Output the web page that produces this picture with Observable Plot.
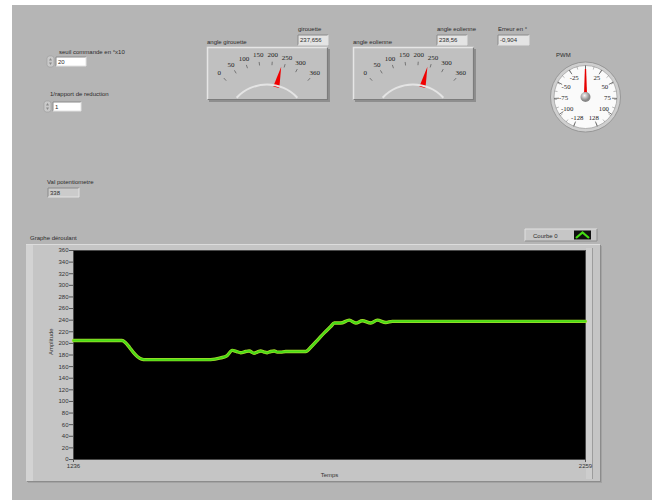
<!DOCTYPE html>
<html>
<head>
<meta charset="utf-8">
<script src="https://cdn.jsdelivr.net/npm/d3@7"></script>
<script src="https://cdn.jsdelivr.net/npm/@observablehq/plot@0.6"></script>
<style>
  html, body { margin: 0; padding: 0; background: #ffffff; }
  #panel { position: relative; width: 656px; height: 500px; overflow: hidden; background: #ffffff; }
  #bg { position: absolute; left: 12px; top: 5px; width: 640px; height: 495px; background: #b5b5b5; }
  #frame { position: absolute; left: 26px; top: 244px; width: 574px; height: 237px; background: #c5c5c5;
           box-shadow: 1px 1px 0 #8c8c8c, 2px 2px 0 #a3a3a3; }
  #frameLeft { position: absolute; left: 26px; top: 244px; width: 7px; height: 237px; background: #d3d3d3; }
  #frameTop { position: absolute; left: 26px; top: 244px; width: 574px; height: 1px; background: #dcdcdc; }
  #frameRight { position: absolute; left: 586px; top: 248px; width: 6px; height: 231px; background: #cdcdcd; border-right: 1px solid #9c9c9c; }
  #chart { position: absolute; left: 26px; top: 244px; }
  #overlay { position: absolute; left: 0; top: 0; pointer-events: none; }
</style>
</head>
<body>
<div id="panel">
  <div id="bg"></div>
  <div id="frame"></div>
  <div id="frameLeft"></div>
  <div id="frameTop"></div>
  <div id="frameRight"></div>
  <div id="chart"></div>
</div>
<script>
// ---------------- data ----------------
const timeValues = [1236,1333,1340,1348,1356,1364,1372,1380,1400,1450,
                    1510,1530,1543,1553,1562,1570,1580,1587,1597,1603,
                    1610,1617,1623,1630,1637,1643,1650,1660,1680,1700,
                    1712,1725,1738,1750,1757,1770,1787,1800,1813,1830,
                    1843,1860,1873,1890,2259];
const amplitudeValues = [205,205,201,193,184,177,173,172,172,172,
                         172,175,179,188,186,184,186,187,183,185,
                         187,185,184,186,187,185,185,186,186,186,
                         195,207,219,229,235,235,240,235,239,235,
                         240,236,238,238,238];
const yTickValues = d3.range(0, 361, 20);
const xTickValues = [1236, 2259];
const gaugeTickValues = [0, 50, 100, 150, 200, 250, 300, 360];
const pwmTickValues = [-128, -100, -75, -50, -25, 0, 25, 50, 75, 100, 128];

const seuilCommande = "20";
const rapportReduction = "1";
const valPotentiometre = "338";
const girouetteValue = 237.656;
const eolienneValue = 238.56;
const erreurValue = "-0,904";
const pwmValue = 0;

const series = timeValues.map((t, i) => ({t, a: amplitudeValues[i]}));

// ---------------- chart ----------------
const chart = Plot.plot({
  width: 574,
  height: 237,
  marginLeft: 47,
  marginRight: 15,
  marginTop: 6,
  marginBottom: 22,
  style: {background: "transparent", fontFamily: "'Liberation Sans', sans-serif", fontSize: "6px", color: "#333"},
  x: {domain: [1236, 2259]},
  y: {domain: [0, 360]},
  marks: [
    Plot.frame({fill: "black", stroke: "#4a4a4a"}),
    Plot.axisY({ticks: yTickValues, tickSize: 4, tickPadding: 1, label: null, fontSize: 6, stroke: "#555"}),
    Plot.axisX({ticks: xTickValues, tickSize: 3, tickPadding: 1, label: null, fontSize: 6, tickFormat: d => String(d), stroke: "#555"}),
    Plot.text(["Amplitude"], {frameAnchor: "left", rotate: -90, dx: -22, fontSize: 6, fill: "#333"}),
    Plot.text(["Temps"], {frameAnchor: "bottom", dy: 17, fontSize: 6, fill: "#333"}),
    Plot.line(series, {x: "t", y: "a", stroke: "#a8dc2c", strokeWidth: 3.4, curve: "monotone-x"}),
    Plot.line(series, {x: "t", y: "a", stroke: "#48dc16", strokeWidth: 2, curve: "monotone-x"})
  ]
});
document.getElementById("chart").appendChild(chart);

// ---------------- front panel widgets ----------------
const svg = d3.select("#panel").append("svg")
  .attr("id", "overlay").attr("width", 656).attr("height", 500)
  .style("font-family", "'Liberation Sans', sans-serif");

function label(x, y, text, size = 6) {
  svg.append("text").attr("x", x).attr("y", y).attr("font-size", size).attr("fill", "#2b2b2b").text(text);
}
function box(x, y, w, h, fill, text) {
  svg.append("rect").attr("x", x).attr("y", y).attr("width", w).attr("height", h).attr("fill", fill);
  svg.append("path").attr("d", `M${x},${y + h}V${y}H${x + w}`).attr("fill", "none").attr("stroke", "#8a8a8a").attr("stroke-width", 1);
  svg.append("path").attr("d", `M${x},${y + h}H${x + w}V${y}`).attr("fill", "none").attr("stroke", "#e2e2e2").attr("stroke-width", 1);
  svg.append("text").attr("x", x + 2).attr("y", y + h / 2 + 2.2).attr("font-size", 6).attr("fill", "#2b2b2b").text(text);
}
function spinner(x, y, w, h) {
  svg.append("rect").attr("x", x).attr("y", y).attr("width", w).attr("height", h).attr("rx", 2.5)
    .attr("fill", "#c9c9c9").attr("stroke", "#9a9a9a").attr("stroke-width", 0.6);
  const cx = x + w / 2;
  svg.append("path").attr("d", `M${cx - 1.5},${y + h / 2 - 1}L${cx},${y + 2}L${cx + 1.5},${y + h / 2 - 1}Z`).attr("fill", "#8a8a8a");
  svg.append("path").attr("d", `M${cx - 1.5},${y + h / 2 + 1}L${cx},${y + h - 2}L${cx + 1.5},${y + h / 2 + 1}Z`).attr("fill", "#8a8a8a");
}

// controls
label(59, 54, "seuil commande en °x10");
spinner(47, 56, 7, 11);
box(56, 57, 30, 9, "#ffffff", seuilCommande);

label(50, 96, "1/rapport de reduction");
spinner(44, 101, 7, 11);
box(53, 102, 28, 9, "#ffffff", rapportReduction);

label(47, 184, "Val potentiometre");
box(48, 188, 31, 9, "#cbcbcb", valPotentiometre);

// indicators
label(298, 31, "girouette");
box(298, 35, 30, 10, "#e4e4e4", d3.format(".3f")(girouetteValue).replace(".", ","));
label(437, 31, "angle eolienne");
box(437, 35, 30, 10, "#e4e4e4", d3.format(".2f")(eolienneValue).replace(".", ","));
label(498, 31, "Erreur en °");
box(498, 35, 31, 10, "#e4e4e4", erreurValue);

// gauges
const gaugeAngle = d3.scaleLinear([0, 360], [-42, 42]);
function gauge(x0, y0, title, value) {
  const w = 121, h = 53;
  label(x0, y0 - 3, title);
  const g = svg.append("g").attr("transform", `translate(${x0},${y0})`);
  g.append("rect").attr("x", 2).attr("y", 2).attr("width", w).attr("height", h).attr("fill", "#8e8e8e");
  g.append("rect").attr("width", w).attr("height", h).attr("fill", "#c0c0c0");
  g.append("path").attr("d", `M0.5,${h}V0.5H${w}`).attr("stroke", "#e6e6e6").attr("stroke-width", 1.5).attr("fill", "none");
  g.append("path").attr("d", `M0.5,${h - 0.5}H${w - 0.5}V0.5`).attr("stroke", "#7c7c7c").attr("stroke-width", 1.2).attr("fill", "none");
  const cx = 60, cy = 79;
  const pt = (r, deg) => [cx + r * Math.sin(deg * Math.PI / 180), cy - r * Math.cos(deg * Math.PI / 180)];
  // needle
  const a = gaugeAngle(value);
  const b1 = pt(40, a - 4.5), b2 = pt(40, a + 4.5), tip = pt(61, a);
  g.append("path").attr("d", `M${b1}L${tip}L${b2}Z`).attr("fill", "#f00000");
  // arc
  const arcPath = d3.arc()({innerRadius: 40.5, outerRadius: 42.5, startAngle: -47 * Math.PI / 180, endAngle: 47 * Math.PI / 180});
  g.append("path").attr("d", arcPath).attr("transform", `translate(${cx},${cy})`).attr("fill", "#e4e4e4");
  // ticks and labels
  for (const v of gaugeTickValues) {
    const d = gaugeAngle(v);
    const p1 = pt(61, d), p2 = pt(64.5, d), pl = pt(71.5, d);
    g.append("line").attr("x1", p1[0]).attr("y1", p1[1]).attr("x2", p2[0]).attr("y2", p2[1]).attr("stroke", "#555").attr("stroke-width", 0.7);
    g.append("text").attr("x", pl[0]).attr("y", pl[1] + 2.3).attr("text-anchor", "middle")
      .attr("font-family", "'Liberation Serif', serif").attr("font-size", 7).attr("fill", "#222").text(v);
  }
}
gauge(207, 47, "angle girouette", girouetteValue);
gauge(353, 47, "angle eolienne", eolienneValue);

// PWM dial
label(556, 57, "PWM");
const pwmAngle = d3.scaleLinear([-128, 128], [-158, 158]);
const dial = svg.append("g").attr("transform", "translate(585.5,97)");
const dpt = (r, deg) => [r * Math.sin(deg * Math.PI / 180), -r * Math.cos(deg * Math.PI / 180)];
dial.append("circle").attr("r", 35).attr("fill", "#cfcfcf").attr("stroke", "#8d8d8d").attr("stroke-width", 0.8);
dial.append("circle").attr("r", 31.5).attr("fill", "#fafafa").attr("stroke", "#a5a5a5").attr("stroke-width", 0.8);
for (const v of d3.range(-128, 129, 12.8)) {
  const d = pwmAngle(v);
  const p1 = dpt(28.5, d), p2 = dpt(31.5, d);
  dial.append("line").attr("x1", p1[0]).attr("y1", p1[1]).attr("x2", p2[0]).attr("y2", p2[1]).attr("stroke", "#777").attr("stroke-width", 0.5);
}
for (const v of pwmTickValues) {
  const d = pwmAngle(v);
  const p1 = dpt(26.5, d), p2 = dpt(31.5, d), pl = dpt(22, d);
  dial.append("line").attr("x1", p1[0]).attr("y1", p1[1]).attr("x2", p2[0]).attr("y2", p2[1]).attr("stroke", "#555").attr("stroke-width", 0.8);
  if (v !== 0) {
    dial.append("text").attr("x", pl[0]).attr("y", pl[1] + 2.3).attr("text-anchor", "middle")
      .attr("font-family", "'Liberation Serif', serif").attr("font-size", 6.8).attr("fill", "#222").text(v);
  }
}
{
  const tip = dpt(28, pwmAngle(pwmValue)), l = dpt(1.6, pwmAngle(pwmValue) - 90), r = dpt(1.6, pwmAngle(pwmValue) + 90);
  dial.append("path").attr("d", `M${l}L${tip[0] + l[0] * 0.4},${tip[1]}L${tip[0] + r[0] * 0.4},${tip[1]}L${r}Z`).attr("fill", "#e60000");
}
const grad = svg.append("defs").append("radialGradient").attr("id", "knob").attr("cx", "40%").attr("cy", "35%");
grad.append("stop").attr("offset", "0%").attr("stop-color", "#f4f4f4");
grad.append("stop").attr("offset", "100%").attr("stop-color", "#888");
dial.append("circle").attr("r", 5).attr("fill", "url(#knob)");

// chart title and legend
label(30, 240, "Graphe déroulant");
svg.append("rect").attr("x", 525).attr("y", 229).attr("width", 72).attr("height", 12).attr("fill", "#c6c6c6");
svg.append("path").attr("d", "M525,241V229H597").attr("fill", "none").attr("stroke", "#e0e0e0").attr("stroke-width", 1);
svg.append("path").attr("d", "M525,241H597V229").attr("fill", "none").attr("stroke", "#8e8e8e").attr("stroke-width", 1);
label(533, 237.5, "Courbe 0");
svg.append("rect").attr("x", 574).attr("y", 230.5).attr("width", 17).attr("height", 9).attr("fill", "#101010");
svg.append("path").attr("d", "M576,238L582.5,232.5L589,238").attr("fill", "none").attr("stroke", "#44dc14").attr("stroke-width", 2.2);
</script>
</body>
</html>
